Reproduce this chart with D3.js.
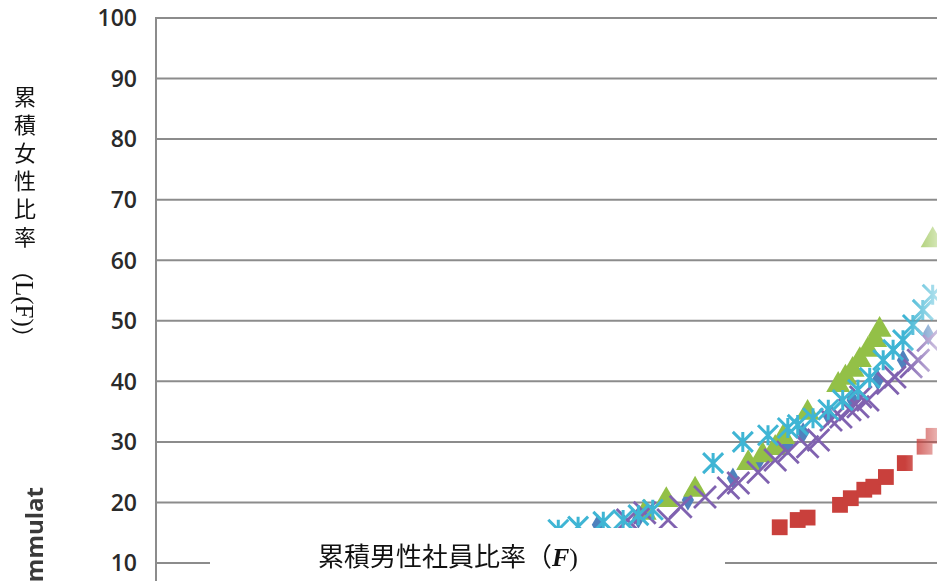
<!DOCTYPE html>
<html>
<head>
<meta charset="utf-8">
<title>累積男性社員比率と累積女性比率</title>
<style>
  body {margin: 0; background: #fff;}
  svg {display: block;}
  .tick {font-family: "Open Sans", sans-serif; font-size: 23px; font-weight: 600; fill: #2a2a2a;}
  .jp {font-family: "Noto Sans CJK JP", sans-serif; fill: #111;}
</style>
</head>
<body>
<svg id="svg" width="937" height="581"></svg>
<script src="https://d3js.org/d3.v7.min.js"></script>
<script>
// values (x = cumulative male ratio, y = cumulative female ratio, %)
var yTicks = [10, 20, 30, 40, 50, 60, 70, 80, 90, 100];

var diamonds = [[49.1,16.3],[53.6,17.4],[59.1,20.4],[64.1,24.0],[66.9,26.7],[70.2,29.5],
                [71.9,31.5],[74.7,34.4],[77.4,36.9],[80.2,40.2],[83.0,43.5],[85.8,47.7]];
var squares = [[69.3,15.9],[71.3,17.1],[72.4,17.5],[76.0,19.6],[77.2,20.7],[78.7,22.1],
               [79.7,22.6],[81.1,24.2],[83.2,26.5],[85.4,29.2],[86.4,31.0]];
var triangles = [[54.3,18.3],[56.7,20.4],[59.9,22.1],[65.8,26.5],[67.4,27.8],[68.8,29.0],
                 [69.7,30.8],[72.4,34.8],[75.8,39.4],[76.6,40.6],[77.4,41.9],[78.2,43.5],
                 [79.1,45.2],[79.9,46.8],[80.4,48.5],[86.3,63.3]];
var crosses = [[52.4,17.1],[54.3,18.3],[56.9,17.1],[58.3,19.3],[61.0,20.9],[63.6,22.4],
               [64.7,23.2],[66.9,25.0],[68.8,27.0],[70.2,28.3],[72.4,29.2],[73.6,30.3],
               [75.0,33.6],[76.1,34.1],[77.1,35.3],[78.0,35.8],[78.3,37.4],[79.1,36.9],
               [81.3,39.7],[82.1,40.7],[83.9,42.4],[84.7,43.5],[85.8,46.8]];
var stars = [[44.7,15.5],[46.9,16.0],[49.7,16.8],[51.9,17.1],[53.6,17.9],[55.2,18.8],
             [61.9,26.5],[65.2,30.0],[68.0,31.1],[70.2,32.3],[71.3,32.8],[73.0,33.9],
             [74.7,35.3],[76.3,36.9],[78.0,38.6],[79.3,40.6],[80.8,43.5],[81.9,45.2],
             [83.0,46.8],[84.1,49.3],[85.2,51.8],[86.3,54.3]];

var svg = d3.select("#svg");
var W = 937, H = 581;
var left = 156;

var x = d3.scaleLinear().domain([0, 100]).range([left, left + 900]);
var y = d3.scaleLinear().domain([10, 100]).range([563, 18]);

// gridlines
svg.append("g").selectAll("line").data(yTicks).enter().append("line")
  .attr("x1", left).attr("x2", W)
  .attr("y1", function(d){return y(d);}).attr("y2", function(d){return y(d);})
  .attr("stroke", "#8c8c8c").attr("stroke-width", 2);
svg.append("line").attr("x1", left).attr("x2", left).attr("y1", y(100) - 1).attr("y2", H)
  .attr("stroke", "#8c8c8c").attr("stroke-width", 2);

// tick labels
svg.append("g").selectAll("text").data(yTicks).enter().append("text")
  .attr("class", "tick")
  .attr("x", 137).attr("y", function(d){return y(d);})
  .attr("dy", "0.36em").attr("text-anchor", "end")
  .text(function(d){return d;});

// fade markers toward the right edge
var defs = svg.append("defs");
var grad = defs.append("linearGradient").attr("id", "fade")
  .attr("gradientUnits", "userSpaceOnUse")
  .attr("x1", 905).attr("x2", 940).attr("y1", 0).attr("y2", 0);
grad.append("stop").attr("offset", 0).attr("stop-color", "#fff");
grad.append("stop").attr("offset", 1).attr("stop-color", "#fff").attr("stop-opacity", 0.35);
defs.append("mask").attr("id", "fadeMask").attr("maskUnits", "userSpaceOnUse")
  .append("rect").attr("x", 0).attr("y", 0).attr("width", W).attr("height", H)
  .attr("fill", "url(#fade)");

var marks = svg.append("g").attr("mask", "url(#fadeMask)");

function pos(d){return "translate(" + x(d[0]) + "," + y(d[1]) + ")";}

marks.append("g").selectAll("path").data(diamonds).enter().append("path")
  .attr("transform", pos).attr("d", d3.symbol(d3.symbolDiamond, 130)())
  .attr("fill", "#4f81bd");

marks.append("g").selectAll("path").data(squares).enter().append("path")
  .attr("transform", pos).attr("d", d3.symbol(d3.symbolSquare, 250)())
  .attr("fill", "#c9403c");

marks.append("g").selectAll("path").data(triangles).enter().append("path")
  .attr("transform", pos).attr("d", d3.symbol(d3.symbolTriangle, 250)())
  .attr("fill", "#93c047");

var s = 11;
marks.append("g").selectAll("path").data(crosses).enter().append("path")
  .attr("transform", pos)
  .attr("d", "M" + -s + "," + -s + "L" + s + "," + s + "M" + -s + "," + s + "L" + s + "," + -s)
  .attr("fill", "none").attr("stroke", "#8062b0").attr("stroke-width", 2.8);

var a = 10;
marks.append("g").selectAll("path").data(stars).enter().append("path")
  .attr("transform", pos)
  .attr("d", "M" + -a + "," + -a + "L" + a + "," + a + "M" + -a + "," + a + "L" + a + "," + -a +
             "M0," + -a + "L0," + a)
  .attr("fill", "none").attr("stroke", "#3fb5d4").attr("stroke-width", 3);

// white box hiding the bottom, with the x axis title
svg.append("rect").attr("x", 210).attr("y", 528).attr("width", 515).attr("height", H - 528)
  .attr("fill", "#fff");
var xt = svg.append("text").attr("class", "jp").attr("x", 318).attr("y", 566)
  .attr("font-size", 26);
xt.append("tspan").text("累積男性社員比率（");
xt.append("tspan").attr("font-family", "Liberation Serif").attr("font-style", "italic")
  .attr("font-weight", "bold").text("F");
xt.append("tspan").attr("font-family", "Liberation Serif").text(")");

// y axis title: CJK part stacked vertically, the bracketed part lies sideways
svg.append("text").attr("class", "jp")
  .attr("x", 25).attr("y", 86)
  .style("writing-mode", "vertical-rl")
  .style("font-size", "22px").style("letter-spacing", "6px")
  .text("累積女性比率");
var yt = svg.append("text").attr("class", "jp")
  .attr("transform", "translate(25,259) rotate(90)")
  .attr("dominant-baseline", "central")
  .attr("font-size", 22);
yt.append("tspan").text("（");
yt.append("tspan").attr("font-family", "Liberation Serif").attr("font-size", 25).text("L(F)");
yt.append("tspan").text("）");

// leftover of an english title at the bottom left
svg.append("text")
  .attr("transform", "translate(43,487) rotate(-90)")
  .attr("text-anchor", "end")
  .attr("font-family", "Open Sans, sans-serif").attr("font-weight", "bold")
  .attr("font-size", 24).attr("fill", "#3a3a3a")
  .text("mmulat");
</script>
</body>
</html>
